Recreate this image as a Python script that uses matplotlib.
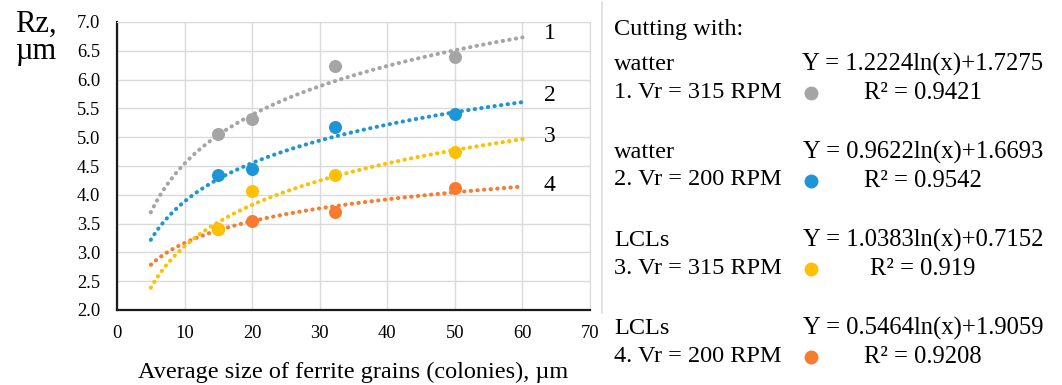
import numpy as np
import matplotlib.pyplot as plt
from matplotlib.lines import Line2D

plt.rcParams['font.family'] = ['Liberation Serif', 'DejaVu Serif']

# measured roughness vs. ferrite grain size
grain_size = [15, 20, 32.3, 50]
rz_water_315 = [5.05, 5.31, 6.24, 6.39]
rz_water_200 = [4.34, 4.45, 5.18, 5.40]
rz_lcl_315 = [3.40, 4.06, 4.35, 4.75]
rz_lcl_200 = [3.40, 3.54, 3.70, 4.12]

# logarithmic trend lines y = a*ln(x) + b
trend_a = [1.2224, 0.9622, 1.0383, 0.5464]
trend_b = [1.7275, 1.6693, 0.7152, 1.9059]
r_squared = ['0.9421', '0.9542', '0.919', '0.9208']

coolants = ['watter', 'watter', 'LCLs', 'LCLs']
speeds = ['1. Vr = 315 RPM', '2. Vr = 200 RPM', '3. Vr = 315 RPM', '4. Vr = 200 RPM']
curve_ids = ['1', '2', '3', '4']
curve_id_y = [6.80, 5.73, 5.01, 4.17]

colors = ['#A5A5A5', '#1E95D5', '#FFC000', '#F97B2F']
series = [rz_water_315, rz_water_200, rz_lcl_315, rz_lcl_200]

fig = plt.figure(figsize=(10.62, 3.85), dpi=100)
ax = fig.add_axes([117 / 1062, 1 - 310 / 385, 473 / 1062, 288 / 385])

x_fit = np.linspace(5, 60, 300)
# orange goes under yellow
for i in [0, 1, 3, 2]:
    y_fit = trend_a[i] * np.log(x_fit) + trend_b[i]
    ax.plot(x_fit, y_fit, color=colors[i], lw=2.9, linestyle=(0, (0.1, 1.55)),
            dash_capstyle='round', zorder=2)
for i in [0, 1, 3, 2]:
    ax.scatter(grain_size, series[i], s=88, color=colors[i], zorder=3, linewidths=0)

for lab, yy in zip(curve_ids, curve_id_y):
    ax.text(64, yy, lab, fontsize=17, ha='center', va='center')

ax.set_xlim(0, 70)
ax.set_ylim(2.0, 7.0)
ax.set_xticks(np.arange(0, 71, 10))
ax.set_yticks(np.arange(2.0, 7.01, 0.5))
ax.set_yticklabels([f'{v:.1f}' for v in np.arange(2.0, 7.01, 0.5)])
ax.tick_params(length=0, labelsize=13.3, pad=11)
ax.tick_params(axis='y', pad=12)
ax.grid(True, color='#DADADA', lw=1.0)
ax.set_axisbelow(True)
for s in ['top', 'right']:
    ax.spines[s].set_color('#DADADA')
for s in ['left', 'bottom']:
    ax.spines[s].set_color('#1A1A1A')
    ax.spines[s].set_linewidth(1.6)

fig.text(353 / 1062, 1 - 372 / 385, 'Average size of ferrite grains (colonies), µm',
         fontsize=17.5, ha='center', va='center')
fig.text(15 / 1062, 1 - 10 / 385, 'Rz,\nµm', fontsize=22, ha='left', va='top',
         linespacing=0.93)

# separator between chart and key
fig.add_artist(Line2D([602 / 1062, 602 / 1062], [1 - 2 / 385, 1 - 313 / 385],
                      color='#DDDDDD', lw=1.2))

# key on the right
fig.text(614 / 1062, 1 - 30 / 385, 'Cutting with:', fontsize=17.5, va='center')
block_top = [64, 152, 240, 328]
for i in range(4):
    y0 = block_top[i]
    fig.text(614 / 1062, 1 - y0 / 385, coolants[i], fontsize=17.5, va='center')
    fig.text(614 / 1062, 1 - (y0 + 28) / 385, speeds[i], fontsize=17.5, va='center')
    fig.text(923 / 1062, 1 - (y0 + 0) / 385,
             f'Y = {trend_a[i]:.4f}ln(x)+{trend_b[i]:.4f}', fontsize=17.7,
             ha='center', va='center')
    fig.text(923 / 1062, 1 - (y0 + 29) / 385, f'R² = {r_squared[i]}', fontsize=17.7,
             ha='center', va='center')
    fig.add_artist(Line2D([811 / 1062], [1 - (y0 + 29) / 385], marker='o',
                          markersize=10, color=colors[i], markeredgewidth=0))

fig.savefig('out.png', dpi=100)
